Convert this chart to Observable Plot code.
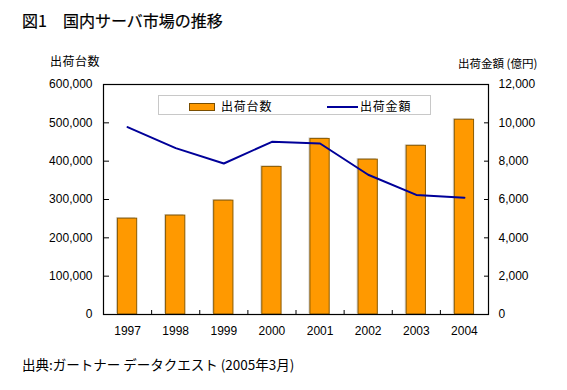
<!DOCTYPE html>
<html><head><meta charset="utf-8">
<script src="https://cdn.jsdelivr.net/npm/d3@7"></script>
<script src="https://cdn.jsdelivr.net/npm/@observablehq/plot@0.6"></script>
<style>
body{margin:0;background:#fff;}
#wrap{position:relative;width:567px;height:390px;overflow:hidden;font-family:"Noto Sans CJK JP","Liberation Sans",sans-serif;color:#000;}
.abs{position:absolute;white-space:nowrap;line-height:1;}
#chart{position:absolute;left:0;top:40px;}
#legend{position:absolute;left:158px;top:95px;width:273px;height:20px;border:1px solid #c8c8c8;background:#fff;box-sizing:border-box;}
</style></head>
<body>
<div id="wrap">
  <div class="abs" style="left:22px;top:12px;font-size:16px;font-weight:normal;-webkit-text-stroke:0.2px #000;">図1　国内サーバ市場の推移</div>
  <div class="abs" style="left:50px;top:55px;font-size:12px;letter-spacing:0.5px;">出荷台数</div>
  <div class="abs" style="left:458px;top:58px;font-size:11.5px;">出荷金額 (億円)</div>
  <div id="chart"></div>
  <div id="legend">
    <div class="abs" style="left:30px;top:7px;width:26px;height:8px;background:#FF9900;border:1px solid #7a4e00;box-sizing:border-box;"></div>
    <div class="abs" style="left:62px;top:4px;font-size:12px;letter-spacing:0.8px;">出荷台数</div>
    <div class="abs" style="left:168px;top:10px;width:31px;height:2px;background:#000099;"></div>
    <div class="abs" style="left:201px;top:4px;font-size:12px;letter-spacing:0.8px;">出荷金額</div>
  </div>
  <div class="abs" style="left:22px;top:358px;font-size:13.5px;">出典:ガートナー データクエスト (2005年3月)</div>
</div>
<script>
const years = [1997, 1998, 1999, 2000, 2001, 2002, 2003, 2004];
const units = [250000, 258000, 297000, 385000, 458000, 404000, 440000, 508000];
const amounts = [9780, 8680, 7880, 9010, 8920, 7290, 6240, 6090];
const leftTicks = [0, 100000, 200000, 300000, 400000, 500000, 600000];
const rightTicks = [0, 2000, 4000, 6000, 8000, 10000, 12000];

const leftMax = 600000, rightMax = 12000;
const k = leftMax / rightMax;
const data = years.map((y, i) => ({year: y, units: units[i], amount: amounts[i]}));
const bounds = years.slice(1).map(y => y - 0.5);
const fmt = d3.format(",");
const fontFam = "'Liberation Sans', Arial, sans-serif";

const plot = Plot.plot({
  width: 567,
  height: 304,
  marginTop: 44,
  marginBottom: 30,
  marginLeft: 103,
  marginRight: 79,
  style: {fontFamily: fontFam, fontSize: "12px", color: "#000", background: "transparent"},
  x: {type: "linear", domain: [years[0] - 0.5, years[years.length - 1] + 0.5], axis: null},
  y: {domain: [0, leftMax], axis: null},
  marks: [
    Plot.rectY(data, {x1: d => d.year - 0.2, x2: d => d.year + 0.2, y: "units", fill: "#d4d4d4", dx: -1.5, dy: -1}),
    Plot.rectY(data, {x1: d => d.year - 0.2, x2: d => d.year + 0.2, y: "units", fill: "#FF9900", stroke: "#8a5a00", strokeWidth: 1}),
    Plot.line(data, {x: "year", y: d => d.amount * k, stroke: "#000099", strokeWidth: 2}),
    Plot.frame({stroke: "#000", strokeWidth: 1.2}),
    Plot.axisY(leftTicks, {anchor: "left", tickSize: 0, tickPadding: 11, tickFormat: fmt, fontSize: 12, label: null}),
    Plot.axisY(leftTicks, {anchor: "left", tickSize: -6, tickFormat: () => "", label: null}),
    Plot.axisY(rightTicks.map(v => v * k), {anchor: "right", tickSize: 0, tickPadding: 10, tickFormat: d => fmt(d / k), fontSize: 12, label: null}),
    Plot.axisY(rightTicks.map(v => v * k), {anchor: "right", tickSize: -5, tickFormat: () => "", label: null}),
    Plot.axisX(years, {anchor: "bottom", tickSize: 0, tickPadding: 12, tickFormat: d => String(d), fontSize: 12, label: null}),
    Plot.axisX(bounds, {anchor: "bottom", tickSize: -4, tickFormat: () => "", label: null})
  ]
});
document.getElementById("chart").appendChild(plot);
</script>
</body></html>
